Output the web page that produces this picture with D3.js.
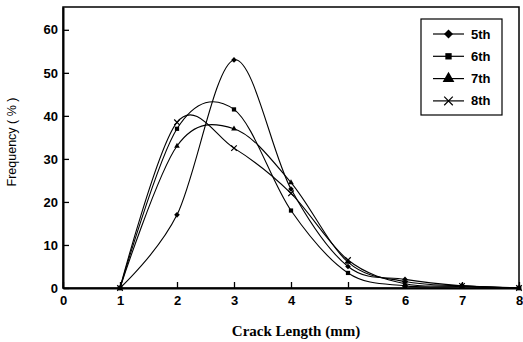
<!DOCTYPE html>
<html>
<head>
<meta charset="utf-8">
<script src="https://cdn.jsdelivr.net/npm/d3@7/dist/d3.min.js"></script>
<style>
  body { margin: 0; background: #fff; }
  svg { display: block; }
  .tick text { font-family: "Liberation Sans", Arial, sans-serif; font-weight: bold; font-size: 13px; }
</style>
</head>
<body>
<div class="graph"></div>
<script>
const lengths = [1, 2, 3, 4, 5, 6, 7, 8];
const seriesNames = ['5th', '6th', '7th', '8th'];
const freq5 = [0, 17, 53, 23, 5, 2, 0.5, 0];
const freq6 = [0, 37, 41.5, 18, 3.5, 0.5, 0.3, 0];
const freq7 = [0, 33, 37, 24.5, 6, 1.5, 0.5, 0];
const freq8 = [0, 38.5, 32.5, 22, 6.5, 1, 0.5, 0];
const xTicks = [0, 1, 2, 3, 4, 5, 6, 7, 8];
const yTicks = [0, 10, 20, 30, 40, 50, 60];

const width = 523, height = 342;
const margin = { top: 7, right: 4, bottom: 54, left: 63 };

const svg = d3.select('.graph').append('svg')
  .attr('width', width)
  .attr('height', height);

const x = d3.scaleLinear()
  .domain([0, 8])
  .range([margin.left, width - margin.right]);

const y = d3.scaleLinear()
  .domain([0, 65.3])
  .range([height - margin.bottom, margin.top]);

// frame
svg.append('rect')
  .attr('x', x(0)).attr('y', y(65.3))
  .attr('width', x(8) - x(0)).attr('height', y(0) - y(65.3))
  .attr('fill', 'none').attr('stroke', '#000').attr('stroke-width', 1.5);

// axes, ticks pointing inward
const xAxis = svg.append('g')
  .attr('transform', `translate(0,${y(0)})`)
  .call(d3.axisBottom(x).tickValues(xTicks).tickSize(-6).tickPadding(9).tickSizeOuter(0));
const yAxis = svg.append('g')
  .attr('transform', `translate(${x(0)},0)`)
  .call(d3.axisLeft(y).tickValues(yTicks).tickSize(-6).tickPadding(5).tickSizeOuter(0));

[xAxis, yAxis].forEach(a => {
  a.select('.domain').attr('stroke-width', 2);
  a.selectAll('.tick line').attr('stroke-width', 1.3);
  a.selectAll('.tick text').attr('fill', '#000');
});
xAxis.selectAll('.tick text').attr('dy', '0.6em');

// axis titles
svg.append('text')
  .attr('x', 296).attr('y', 336)
  .attr('text-anchor', 'middle')
  .style('font-family', '"Liberation Serif", "Times New Roman", serif')
  .style('font-size', '15px').style('font-weight', 'bold')
  .text('Crack Length (mm)');

svg.append('text')
  .attr('transform', 'translate(16,142) rotate(-90)')
  .attr('text-anchor', 'middle')
  .style('font-family', '"Liberation Sans", Arial, sans-serif')
  .style('font-size', '12.5px')
  .text('Frequency ( % )');

// series
const symX = d3.symbolX || d3.symbolCross;
const series = [
  { name: seriesNames[0], values: freq5, sym: d3.symbolSquare, rot: 45, size: 16, legendSize: 40, stroke: false },
  { name: seriesNames[1], values: freq6, sym: d3.symbolSquare, rot: 0, size: 18, legendSize: 40, stroke: false },
  { name: seriesNames[2], values: freq7, sym: d3.symbolTriangle, rot: 0, size: 14, legendSize: 60, stroke: false },
  { name: seriesNames[3], values: freq8, sym: symX, rot: d3.symbolX ? 0 : 45, size: 22, legendSize: 50, stroke: true }
];

const line = d3.line()
  .x((d, i) => x(lengths[i]))
  .y(d => y(d))
  .curve(d3.curveCardinal.tension(0));

function drawSymbol(g, s, size, px, py) {
  const p = g.append('path')
    .attr('d', d3.symbol().type(s.sym).size(size)())
    .attr('transform', `translate(${px},${py}) rotate(${s.rot})`);
  if (s.stroke && d3.symbolX) p.attr('fill', 'none').attr('stroke', '#000').attr('stroke-width', 1.2);
  else p.attr('fill', '#000');
}

series.forEach(s => {
  svg.append('path')
    .datum(s.values)
    .attr('fill', 'none')
    .attr('stroke', '#000')
    .attr('stroke-width', 1.1)
    .attr('d', line);
  const g = svg.append('g');
  s.values.forEach((v, i) => drawSymbol(g, s, s.size, x(lengths[i]), y(v)));
});

// legend
const legend = svg.append('g');
legend.append('rect')
  .attr('x', 421).attr('y', 19)
  .attr('width', 81).attr('height', 96)
  .attr('fill', '#fff').attr('stroke', '#000').attr('stroke-width', 1.2);

series.forEach((s, i) => {
  const ly = 34 + i * 22.3;
  legend.append('line')
    .attr('x1', 433).attr('x2', 464)
    .attr('y1', ly).attr('y2', ly)
    .attr('stroke', '#000').attr('stroke-width', 1.2);
  drawSymbol(legend, s, s.legendSize, 448.5, ly);
  legend.append('text')
    .attr('x', 471).attr('y', ly + 4.5)
    .style('font-family', '"Liberation Sans", Arial, sans-serif')
    .style('font-size', '13px').style('font-weight', 'bold')
    .text(s.name);
});
</script>
</body>
</html>
